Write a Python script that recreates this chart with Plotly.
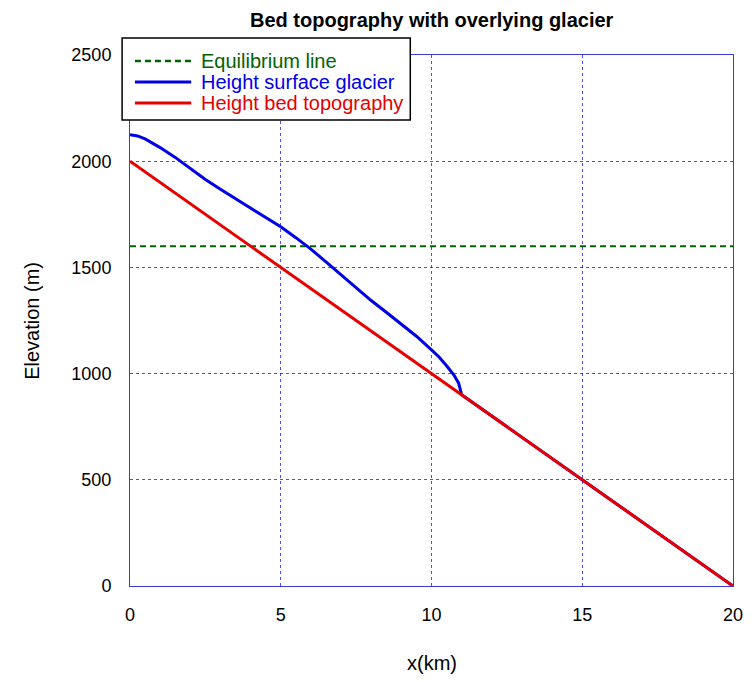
import plotly.graph_objects as go

# ---- data ----
eq_x = [0, 20]
eq_z = [1600, 1600]

surf_x = [0, 0.25, 0.5, 0.75, 1.0, 1.5, 2.0, 2.5, 3.0, 3.5, 4.0, 4.5, 5.0, 5.5, 6.0, 6.5,
          7.0, 7.5, 8.0, 8.5, 9.0, 9.5, 10.0, 10.25, 10.5, 10.75, 10.9, 11.0,
          12, 14, 16, 18, 20]
surf_z = [2125, 2119, 2105, 2086, 2064, 2018, 1965, 1914, 1868, 1824, 1780, 1736, 1691, 1640,
          1586, 1526, 1465, 1405, 1344, 1289, 1234, 1176, 1112, 1078, 1037, 992, 955, 900,
          800, 600, 400, 200, 0]

bed_x = [0, 5, 10, 15, 20]
bed_z = [2000, 1500, 1000, 500, 0]

x_ticks = [0, 5, 10, 15, 20]
y_ticks = [0, 500, 1000, 1500, 2000, 2500]

legend_names = ["Equilibrium line", "Height surface glacier", "Height bed topography"]
green = "#006400"
blue = "#0000e6"
red = "#e60000"
legend_colors = [green, blue, red]
legend_dash = ["6px,4px", "solid", "solid"]

FONT = "Liberation Sans, Arial, sans-serif"

fig = go.Figure()
fig.add_trace(go.Scatter(x=eq_x, y=eq_z, mode="lines", name=legend_names[0],
                         line=dict(color=green, width=2, dash="6px,4px")))
fig.add_trace(go.Scatter(x=surf_x, y=surf_z, mode="lines", name=legend_names[1],
                         line=dict(color=blue, width=3)))
fig.add_trace(go.Scatter(x=bed_x, y=bed_z, mode="lines", name=legend_names[2],
                         line=dict(color=red, width=3)))

OFF = 8  # page body margin
W, H = 755 - OFF, 682 - OFF
L, R, T, B = 122, 14, 47, 96
pw, ph = W - L - R, H - T - B

def px2paper_x(px):
    return (px - OFF - L) / pw

def px2paper_y(py):
    return (H - B - (py - OFF)) / ph

shapes = []
annotations = []

# manual legend box
shapes.append(dict(type="rect", xref="paper", yref="paper",
                   x0=px2paper_x(122), x1=px2paper_x(414),
                   y0=px2paper_y(120), y1=px2paper_y(38),
                   fillcolor="white", line=dict(color="black", width=1.5), layer="above"))
row_y = [61, 82, 103]
for i, name in enumerate(legend_names):
    shapes.append(dict(type="line", xref="paper", yref="paper",
                       x0=px2paper_x(135), x1=px2paper_x(192),
                       y0=px2paper_y(row_y[i]), y1=px2paper_y(row_y[i]),
                       line=dict(color=legend_colors[i], width=3 if i else 2.5,
                                 dash=legend_dash[i]), layer="above"))
    annotations.append(dict(xref="paper", yref="paper", x=px2paper_x(200), y=px2paper_y(row_y[i]),
                            xanchor="left", yanchor="middle", text=name, showarrow=False,
                            font=dict(family=FONT, size=20, color=legend_colors[i])))

# title, axis titles
annotations.append(dict(xref="paper", yref="paper", x=0.5, y=px2paper_y(20),
                        xanchor="center", yanchor="middle",
                        text="<b>Bed topography with overlying glacier</b>", showarrow=False,
                        font=dict(family=FONT, size=20, color="black")))
annotations.append(dict(xref="paper", yref="paper", x=0.5, y=px2paper_y(663),
                        xanchor="center", yanchor="middle", text="x(km)", showarrow=False,
                        font=dict(family=FONT, size=20, color="black")))
annotations.append(dict(xref="paper", yref="paper", x=px2paper_x(30), y=0.5,
                        xanchor="center", yanchor="middle", text="Elevation (m)", showarrow=False,
                        textangle=-90, font=dict(family=FONT, size=20, color="black")))

axis_common = dict(showline=True, linecolor="#3a3ae0", linewidth=1, mirror=True,
                   showgrid=True, gridcolor="rgba(0,0,255,0.7)", gridwidth=1, griddash="dot",
                   zeroline=False, ticks="", tickfont=dict(family=FONT, size=18, color="black"))

fig.update_layout(
    width=W, height=H,
    margin=dict(l=L, r=R, t=T, b=B),
    paper_bgcolor="white", plot_bgcolor="white",
    showlegend=False,
    xaxis=dict(range=[0, 20], tickvals=x_ticks, ticktext=[str(v) for v in x_ticks],
               ticklabelstandoff=12, **axis_common),
    yaxis=dict(range=[0, 2500], tickvals=y_ticks, ticktext=[str(v) for v in y_ticks],
               ticklabelstandoff=14, **axis_common),
    shapes=shapes, annotations=annotations,
)

fig.write_html("out.html")
